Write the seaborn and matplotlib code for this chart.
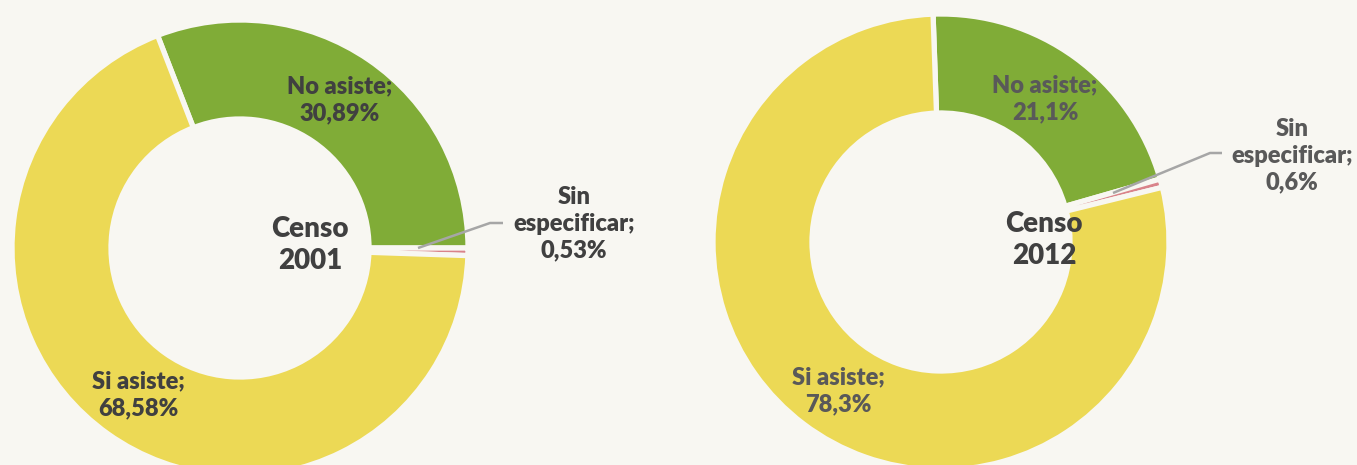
import matplotlib

matplotlib.use("Agg")
import matplotlib.pyplot as plt
import seaborn as sns

# data
CATEGORIES = ["No asiste", "Sin especificar", "Si asiste"]
CENSO_2001 = [30.89, 0.53, 68.58]
CENSO_2012 = [21.1, 0.6, 78.3]
LABELS_2001 = ["30,89%", "0,53%", "68,58%"]
LABELS_2012 = ["21,1%", "0,6%", "78,3%"]

W, H = 1357, 465
BG = "#f8f7f2"
COLORS = sns.color_palette(["#80ac37", "#d9838a", "#ecd955"])


def px(x, y):
    # reference pixel position -> data coords (y up)
    return x, H - y


def draw_donut(ax, values, center, start, txt_color, labels, label_pos, center_txt, center_pos, leader):
    ax.pie(
        values,
        colors=COLORS,
        startangle=start,
        counterclock=False,
        radius=228,
        center=px(*center),
        wedgeprops={"width": 99, "edgecolor": BG, "linewidth": 3.8},
        frame=True,
    )
    fmt = [f"{c};\n{v}" for c, v in zip(CATEGORIES, labels)]
    fmt[1] = f"Sin\nespecificar;\n{labels[1]}"
    for text, pos in zip(fmt, label_pos):
        ax.text(*px(*pos), text, ha="center", va="center", fontsize=17,
                fontweight="heavy", color=txt_color, linespacing=1.25)
    ax.text(*px(*center_pos), center_txt, ha="center", va="center", fontsize=20,
            fontweight="heavy", color="#404040", linespacing=1.25)
    xs, ys = zip(*[px(*p) for p in leader])
    ax.plot(xs, ys, color="#a6a6a6", linewidth=1.8, solid_capstyle="butt")


sns.set_style("white")
plt.rcParams["font.family"] = ["Lato", "DejaVu Sans"]

fig = plt.figure(figsize=(W / 100, H / 100), dpi=100, facecolor=BG)
ax = fig.add_axes([0, 0, 1, 1])
ax.set_facecolor(BG)

draw_donut(
    ax, CENSO_2001, (240, 248), 111.2, "#404040", LABELS_2001,
    [(340, 100), (574, 224), (138, 395)], "Censo\n2001", (310, 245),
    [(418, 248), (490, 223), (503, 223)],
)
draw_donut(
    ax, CENSO_2012, (941, 242), 92.0, "#595959", LABELS_2012,
    [(1045, 99), (1292, 156), (838, 391)], "Censo\n2012", (1044, 240),
    [(1113, 193), (1210, 153), (1222, 153)],
)

ax.set_xlim(0, W)
ax.set_ylim(0, H)
ax.set_aspect("auto")
ax.axis("off")

fig.savefig("out.png", dpi=100, facecolor=BG)
